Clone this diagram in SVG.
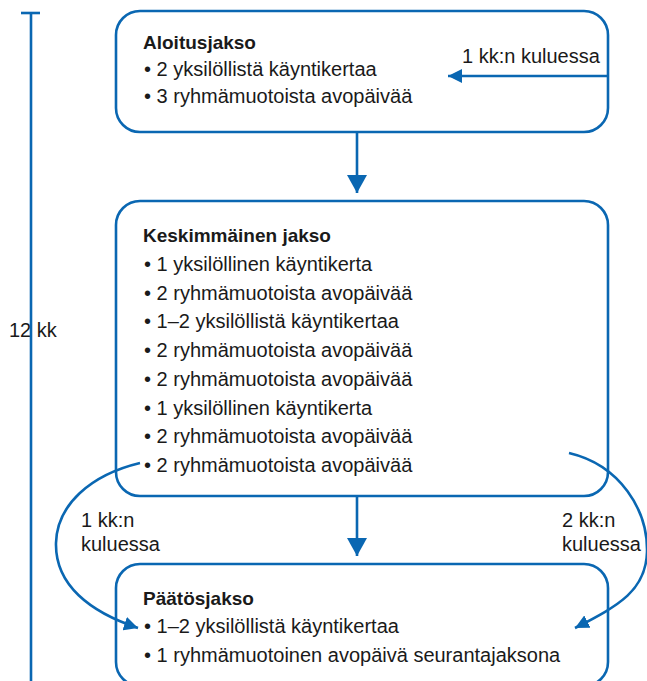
<svg xmlns="http://www.w3.org/2000/svg" width="647" height="681" viewBox="0 0 647 681">
<style>
.box{fill:#ffffff;stroke:#0a67b2;stroke-width:2.6}
.ln{fill:none;stroke:#0a67b2;stroke-width:2.6}
text{font-family:"Liberation Sans",Arial,sans-serif;font-size:20px;fill:#1a1a1a}
.t{font-weight:bold;font-size:19px}
</style>
<defs>
<marker id="big" viewBox="0 0 18 20" refX="18" refY="10" markerWidth="18" markerHeight="20" markerUnits="userSpaceOnUse" orient="auto"><path d="M0,0 L18,10 L0,20 z" fill="#0a67b2"/></marker>
<marker id="small" viewBox="0 0 14 14" refX="14" refY="7" markerWidth="14" markerHeight="14" markerUnits="userSpaceOnUse" orient="auto"><path d="M0,0 L14,7 L0,14 z" fill="#0a67b2"/></marker>
</defs>
<g id="timeline">
<text x="9" y="337">12 kk</text>
<line class="ln" x1="31" y1="13" x2="31" y2="681"/>
<line class="ln" x1="21" y1="13" x2="40" y2="13"/>
</g>
<g id="aloitusjakso">
<rect class="box" x="116" y="11" width="492" height="121" rx="24"/>
<text class="t" x="143" y="49">Aloitusjakso</text>
<text x="144" y="76">• 2 yksilöllistä käyntikertaa</text>
<text x="144" y="103">• 3 ryhmämuotoista avopäivää</text>
</g>
<g id="keskimmainen">
<rect class="box" x="116" y="201" width="492" height="295" rx="24"/>
<text class="t" x="143" y="242">Keskimmäinen jakso</text>
<text x="144" y="271">• 1 yksilöllinen käyntikerta</text>
<text x="144" y="299.7">• 2 ryhmämuotoista avopäivää</text>
<text x="144" y="328.4">• 1–2 yksilöllistä käyntikertaa</text>
<text x="144" y="357">• 2 ryhmämuotoista avopäivää</text>
<text x="144" y="385.8">• 2 ryhmämuotoista avopäivää</text>
<text x="144" y="414.5">• 1 yksilöllinen käyntikerta</text>
<text x="144" y="443">• 2 ryhmämuotoista avopäivää</text>
<text x="144" y="472">• 2 ryhmämuotoista avopäivää</text>
</g>
<g id="paatosjakso">
<rect class="box" x="116" y="564" width="492" height="122" rx="24"/>
<text class="t" x="143" y="605">Päätösjakso</text>
<text x="144" y="633">• 1–2 yksilöllistä käyntikertaa</text>
<text x="144" y="662">• 1 ryhmämuotoinen avopäivä seurantajaksona</text>
</g>
<g id="connectors">
<line class="ln" x1="608" y1="76" x2="448" y2="76" marker-end="url(#small)"/>
<text x="462" y="63">1 kk:n kuluessa</text>
<line class="ln" x1="357" y1="132" x2="357" y2="193" marker-end="url(#big)"/>
<line class="ln" x1="357" y1="496" x2="357" y2="556" marker-end="url(#big)"/>
<path class="ln" d="M140,463 C90,475 57,505 56,543 C55,585 90,612 138,628" marker-end="url(#small)"/>
<text x="81" y="527">1 kk:n</text>
<text x="81" y="551">kuluessa</text>
<path class="ln" d="M569,453 C620,465 648,510 647,552 C646,590 620,605 575,628" marker-end="url(#small)"/>
<text x="562" y="527">2 kk:n</text>
<text x="562" y="551">kuluessa</text>
</g>
</svg>
